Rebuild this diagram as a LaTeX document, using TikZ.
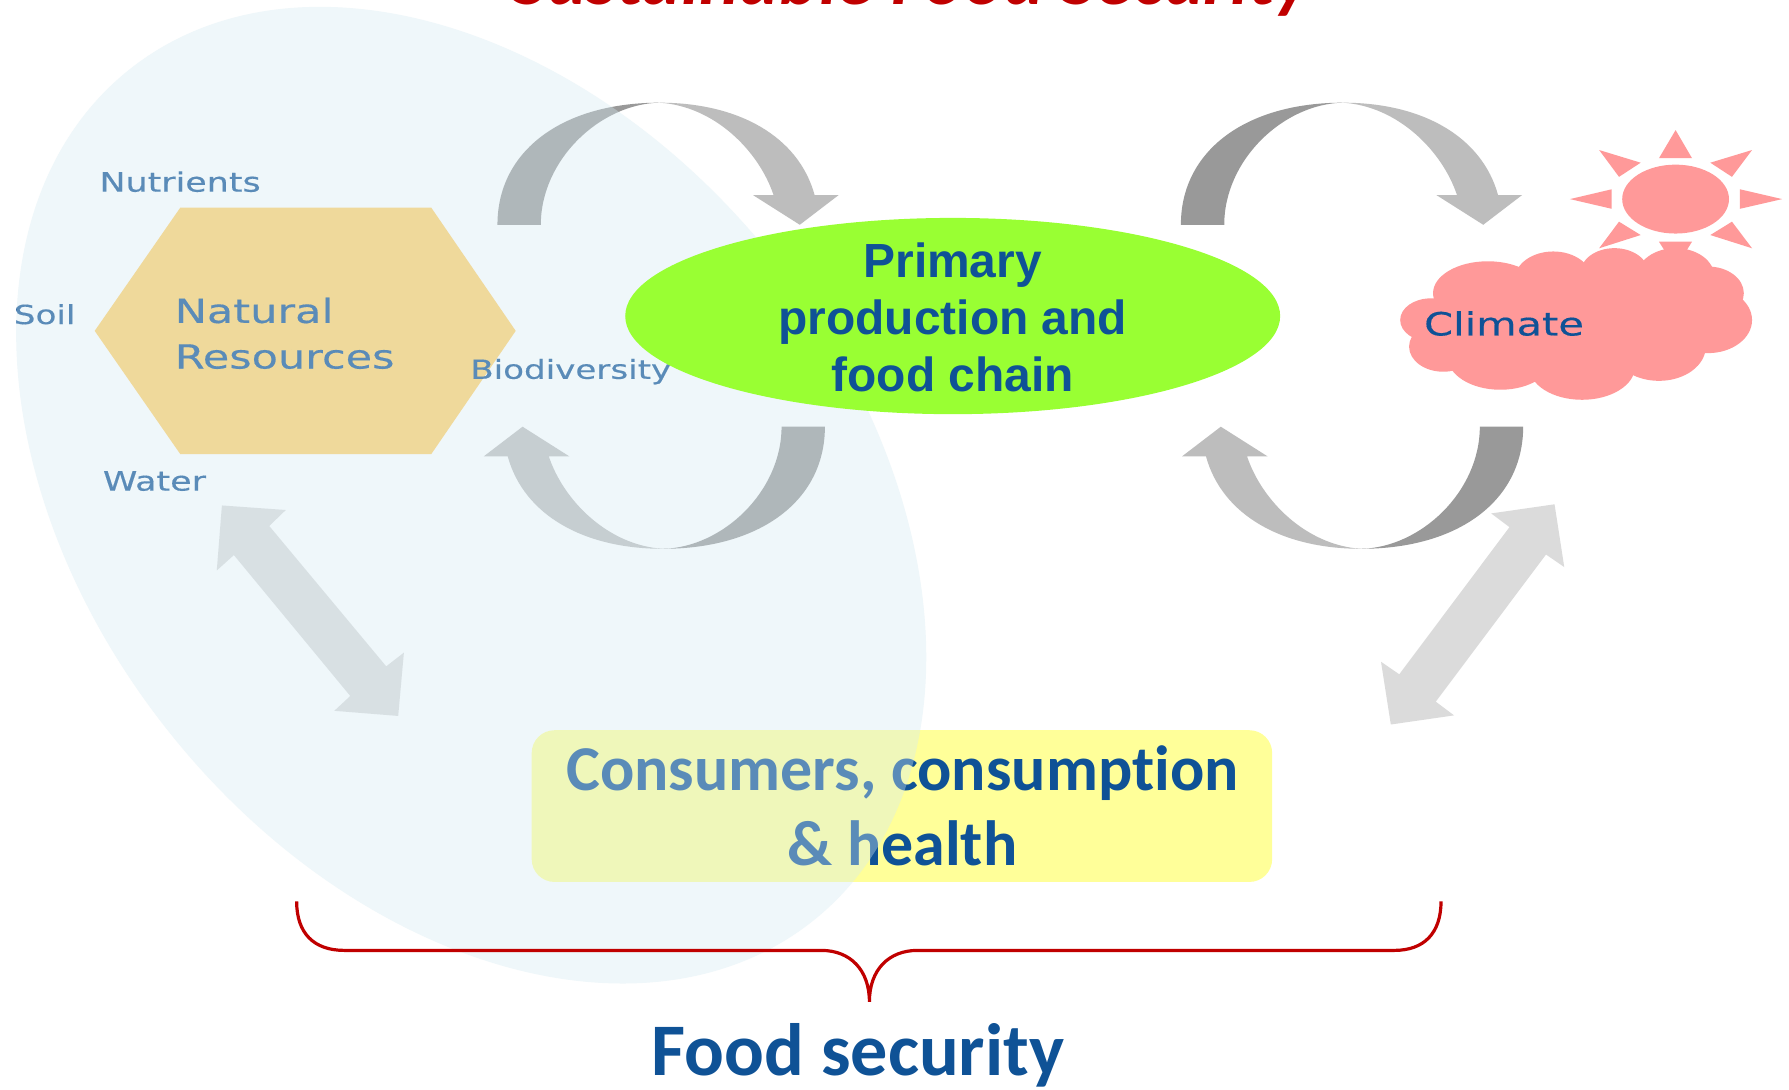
\documentclass[tikz,border=0pt]{standalone}
\usepackage{fontspec}
\setmainfont[Ligatures=NoCommon]{Carlito}
\newfontfamily\arialfont{Liberation Sans}
\newfontfamily\blurfont[FakeStretch=1.3,FakeBold=0.4]{DejaVu Sans}
\usetikzlibrary{shapes.geometric}
\definecolor{deepblue}{RGB}{15,82,150}
\definecolor{darkred}{RGB}{192,0,0}
\definecolor{sunpink}{RGB}{255,153,153}
\definecolor{hazeblue}{RGB}{213,234,242}
\definecolor{hexsand}{RGB}{255,207,103}
\definecolor{cellgreen}{RGB}{153,255,51}
\definecolor{softyellow}{RGB}{255,255,153}
\tikzset{
  looplabel/.style={font=\blurfont\fontsize{23.5}{40}\selectfont,text=deepblue,anchor=base west,inner sep=0pt},
  sidelabel/.style={looplabel,font=\blurfont\fontsize{23}{40}\selectfont},
  hexlabel/.style={looplabel,font=\blurfont\fontsize{29}{40}\selectfont},
  bigarrow/.style={fill=black!14},
  sunshape/.style={fill=sunpink},
  loopband/.pic={
    \fill[black!40] (-142,107) .. controls (-142,42) and (-85,0) .. (0,0) .. controls (-52,1) and (-104,50) .. (-104,107) -- cycle;
    \fill[black!26] (0,0) .. controls (70,0) and (122,30) .. (136,81) -- (157,81) -- (123,107) -- (82,81) -- (100,81) .. controls (87,42) and (48,3) .. (0,0) -- cycle;
  }
}
\begin{document}
\begin{tikzpicture}[x=1pt,y=-1pt]
\clip (0,0) rectangle (1568,955);
\fill[white] (0,0) rectangle (1568,955);

\node[font=\bfseries\itshape\fontsize{66}{66}\selectfont,text=darkred,anchor=base,inner sep=0pt] (title) at (799,4) {Sustainable Food Security};

\fill[hexsand] (83,290) -- (158,182) -- (378,182) -- (452,290) -- (378,398) -- (158,398) -- cycle;

\pic at (578,90) {loopband};
\pic[rotate=180] at (581,481) {loopband};
\pic at (1177,90) {loopband};
\pic[rotate=180] at (1193,481) {loopband};

\fill[bigarrow] (194.5,443) -- (250.5,447) -- (236,461) -- (338.5,584) -- (354,572) -- (349,627.5) -- (293,623) -- (307,610) -- (205,486.5) -- (190,500) -- cycle;
\fill[bigarrow] (1362.5,442) -- (1371,497) -- (1355,486) -- (1258.4,615) -- (1274.4,627) -- (1219,635) -- (1210.4,580) -- (1226.4,591) -- (1323,462) -- (1307,450) -- cycle;

\node[looplabel] (nutrients) at (87,168) {Nutrients};
\node[sidelabel] (soil) at (12,284) {Soil};
\node[looplabel] (water) at (90,430) {Water};
\node[sidelabel] (biodiversity) at (412,332) {Biodiversity};
\node[hexlabel] (natural) at (153,283) {Natural};
\node[hexlabel] (resources) at (153,323) {Resources};

\node[fill=softyellow,rounded corners=20pt,minimum width=649pt,minimum height=133pt,inner sep=0pt] (consumers) at (790.5,706.5) {};
\node[font=\bfseries\fontsize{56}{66}\selectfont,text=deepblue,align=center,inner sep=0pt,anchor=base] (consumertext) at (791,759) {Consumers, consumption\\\& health};

\node[shape=ellipse,fill=hazeblue,opacity=0.38,minimum width=957pt,minimum height=673pt,inner sep=0pt,rotate=-51] (haze) at (413,434) {};

\node[shape=ellipse,fill=cellgreen,minimum width=574pt,minimum height=172pt,inner sep=0pt] (primary) at (835,277) {};
\node[font=\arialfont\bfseries\fontsize{42}{50}\selectfont,text=deepblue,align=center,inner sep=0pt,anchor=base] (primarytext) at (835,343) {Primary\\production and\\food chain};

\fill[sunshape] (1468.6,174.5) ellipse [x radius=46.8,y radius=30.2];
\fill[sunshape] (1468.6,114) -- (1483,138.7) -- (1454,138.7) -- cycle;
\fill[sunshape] (1468.6,235) -- (1483,211.8) -- (1454,211.8) -- cycle;
\fill[sunshape] (1562,174.5) -- (1525,183) -- (1525,165.9) -- cycle;
\fill[sunshape] (1376,174.5) -- (1412.6,183) -- (1412.6,165.9) -- cycle;
\fill[sunshape] (1535.6,131.5) -- (1499,142.6) -- (1518,155) -- cycle;
\fill[sunshape] (1401.6,131.5) -- (1438,142.6) -- (1419,155) -- cycle;
\fill[sunshape] (1535.6,217.6) -- (1499,206) -- (1518,194.3) -- cycle;
\fill[sunshape] (1401.6,217.6) -- (1438,206) -- (1419,194.3) -- cycle;

\fill[sunshape] (1254,280.5) ellipse [x radius=26.8,y radius=19];
\fill[sunshape] (1304,257) ellipse [x radius=48,y radius=28];
\fill[sunshape] (1361.4,245.4) ellipse [x radius=34,y radius=25];
\fill[sunshape] (1415,239.5) ellipse [x radius=30,y radius=22];
\fill[sunshape] (1468.6,242.5) ellipse [x radius=34,y radius=25];
\fill[sunshape] (1497,257) ellipse [x radius=31.4,y radius=23.4];
\fill[sunshape] (1497,280.5) ellipse [x radius=38.6,y radius=29];
\fill[sunshape] (1454,303.8) ellipse [x radius=41,y radius=30];
\fill[sunshape] (1386.6,321.4) ellipse [x radius=46.4,y radius=29];
\fill[sunshape] (1315,312.6) ellipse [x radius=46.4,y radius=29];
\fill[sunshape] (1265,303.8) ellipse [x radius=30,y radius=22];
\fill[sunshape] (1380,285) ellipse [x radius=120,y radius=40];
\node[looplabel,font=\blurfont\fontsize{28}{40}\selectfont] (climate) at (1248,294) {Climate};

\draw[darkred,line width=2.8pt] (260,790) .. controls (260,818) and (275,833) .. (302,833) -- (720,833) .. controls (745,833) and (762,850) .. (762,878) .. controls (762,850) and (779,833) .. (804,833) -- (1222,833) .. controls (1248,833) and (1263,818) .. (1263,790);

\node[font=\bfseries\fontsize{65}{65}\selectfont,text=deepblue,anchor=base,inner sep=0pt] (foodsecurity) at (752,943) {Food security};
\end{tikzpicture}
\end{document}
